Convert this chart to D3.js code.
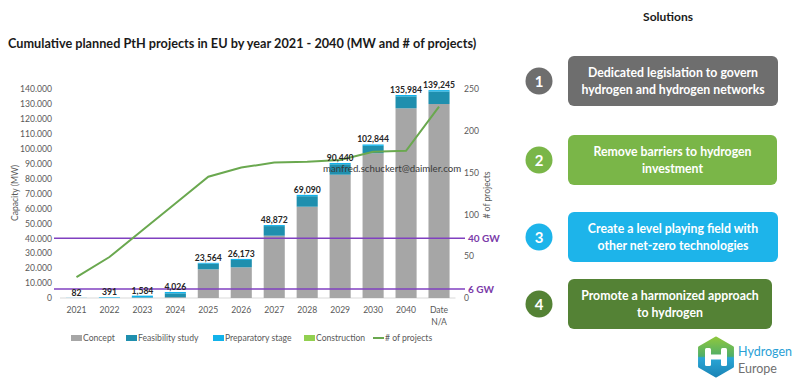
<!DOCTYPE html>
<html>
<head>
<meta charset="utf-8">
<script src="https://cdn.jsdelivr.net/npm/d3@7"></script>
<style>
  body { margin: 0; background: #fff; }
  svg { font-family: Lato, "Open Sans", sans-serif; }
</style>
</head>
<body>
<div id="chart"></div>
<script>
// data
const categories = ["2021","2022","2023","2024","2025","2026","2027","2028","2029","2030","2040","Date N/A"];
const concept     = [0, 0, 200, 500, 19200, 20560, 41730, 61150, 82590, 97000, 127060, 129940];
const feasibility = [0, 0, 300, 2626, 3764, 4913, 6442, 7040, 7000, 4900, 8024, 8405];
const preparatory = [82, 391, 1084, 900, 600, 700, 700, 900, 850, 944, 900, 900];
const construction = [0, 0, 0, 0, 0, 0, 0, 0, 0, 0, 0, 0];
const totals = [82, 391, 1584, 4026, 23564, 26173, 48872, 69090, 90440, 102844, 135984, 139245];
const projects = [25, 49, 81, 113, 145, 156, 162, 163, 165, 175, 176, 229];
const leftTicks = d3.range(0, 140001, 10000);
const rightTicks = [0, 50, 100, 150, 200, 250];
const targets = [{v: 40000, label: "40 GW"}, {v: 6000, label: "6 GW"}];
const seriesNames = ["Concept", "Feasibility study", "Preparatory stage", "Construction"];
const seriesColors = ["#a6a6a6", "#1f8fae", "#12b2ea", "#92d050"];
const solutions = [
  {n: "1", lines: ["Dedicated legislation to govern", "hydrogen and hydrogen networks"], color: "#6e6e6e"},
  {n: "2", lines: ["Remove barriers to hydrogen", "investment"], color: "#7ab648"},
  {n: "3", lines: ["Create a level playing field with", "other net-zero technologies"], color: "#1db4ea"},
  {n: "4", lines: ["Promote a harmonized approach", "to hydrogen"], color: "#548235"}
];

const svg = d3.select("#chart").append("svg")
  .attr("width", 800)
  .attr("height", 385)

// title
svg.append("text")
  .attr("x", 8).attr("y", 48)
  .attr("font-size", 12.7).attr("font-weight", "bold").attr("fill", "#1a1a1a")
  .text("Cumulative planned PtH projects in EU by year 2021 - 2040 (MW and # of projects)")

const x = d3.scaleBand().domain(categories).range([60, 455.5]).paddingInner(0.36).paddingOuter(0.18)
const y = d3.scaleLinear().domain([0, 140000]).range([298, 89])
const y2 = d3.scaleLinear().domain([0, 250]).range([298, 89])

const dotFmt = d3.formatLocale({decimal: ",", thousands: ".", grouping: [3], currency: ["", ""]}).format(",")
const commaFmt = d3.format(",")

// left axis
const ya = svg.append("g").attr("transform", "translate(53,0)")
  .call(d3.axisLeft(y).tickValues(leftTicks).tickFormat(dotFmt).tickSize(0).tickPadding(1))
ya.select(".domain").remove()
ya.selectAll("text").attr("font-size", 8.6).attr("fill", "#595959").attr("font-family", "Lato, sans-serif")

// right axis
const y2a = svg.append("g").attr("transform", "translate(463,0)")
  .call(d3.axisRight(y2).tickValues(rightTicks).tickSize(0).tickPadding(1))
y2a.select(".domain").remove()
y2a.selectAll("text").attr("font-size", 8.6).attr("fill", "#595959").attr("font-family", "Lato, sans-serif")

svg.append("text")
  .attr("transform", "translate(18,193) rotate(-90)")
  .attr("text-anchor", "middle").attr("font-size", 8.6).attr("fill", "#595959")
  .text("Capacity (MW)")
svg.append("text")
  .attr("transform", "translate(490,195) rotate(-90)")
  .attr("text-anchor", "middle").attr("font-size", 8.6).attr("fill", "#595959")
  .text("# of projects")

// baseline
svg.append("line")
  .attr("x1", 60).attr("x2", 455.5).attr("y1", y(0)).attr("y2", y(0))
  .attr("stroke", "#d9d9d9")

// stacked bars
const rows = categories.map((c, i) => ({
  cat: c, Concept: concept[i], "Feasibility study": feasibility[i],
  "Preparatory stage": preparatory[i], Construction: construction[i]
}))
const stack = d3.stack().keys(seriesNames)(rows)
svg.append("g").selectAll("g")
  .data(stack)
  .join("g")
  .attr("fill", (d, i) => seriesColors[i])
  .selectAll("rect")
  .data(d => d)
  .join("rect")
  .attr("x", d => x(d.data.cat))
  .attr("width", x.bandwidth())
  .attr("y", d => y(d[1]))
  .attr("height", d => y(d[0]) - y(d[1]))

// x labels
svg.append("g").selectAll("text")
  .data(categories)
  .join("text")
  .attr("x", d => x(d) + x.bandwidth() / 2)
  .attr("y", 313)
  .attr("text-anchor", "middle").attr("font-size", 8.6).attr("fill", "#595959")
  .each(function(d) {
    const parts = d === "Date N/A" ? ["Date", "N/A"] : [d]
    d3.select(this).selectAll("tspan").data(parts).join("tspan")
      .attr("x", x(d) + x.bandwidth() / 2)
      .attr("dy", (p, i) => i ? 12 : 0)
      .text(p => p)
  })

// target lines
targets.forEach(t => {
  svg.append("line")
    .attr("x1", 54).attr("x2", 465)
    .attr("y1", y(t.v)).attr("y2", y(t.v))
    .attr("stroke", "#8040c0").attr("stroke-width", 1.6)
  svg.append("text")
    .attr("x", 468).attr("y", y(t.v) + 3.5)
    .attr("font-size", 10).attr("font-weight", "bold").attr("fill", "#7a3aa8")
    .text(t.label)
})

// projects line
svg.append("path")
  .datum(projects)
  .attr("fill", "none").attr("stroke", "#6aa84f").attr("stroke-width", 2)
  .attr("d", d3.line()
    .x((d, i) => x(categories[i]) + x.bandwidth() / 2)
    .y(d => y2(d)))

// data labels
svg.append("g").selectAll("text")
  .data(totals)
  .join("text")
  .attr("x", (d, i) => x(categories[i]) + x.bandwidth() / 2)
  .attr("y", d => y(d) - 2)
  .attr("text-anchor", "middle").attr("font-size", 8.6).attr("font-weight", "bold").attr("fill", "#262626")
  .text(d => commaFmt(d))

// watermark (nudged below the 90,440 label so they do not collide)
svg.append("text")
  .attr("x", 323).attr("y", 172)
  .attr("font-size", 9.7).attr("fill", "#3a3a3a")
  .text("manfred.schuckert@daimler.com")

// legend
const legendItems = seriesNames.map((n, i) => ({name: n, color: seriesColors[i], line: false}))
  .concat([{name: "# of projects", color: "#6aa84f", line: true}])
const legendX = [71, 126, 213, 304, 373]
const lg = svg.append("g").selectAll("g")
  .data(legendItems)
  .join("g")
  .attr("transform", (d, i) => `translate(${legendX[i]},338)`)
lg.filter(d => !d.line).append("rect")
  .attr("x", 0).attr("y", -3).attr("width", 11).attr("height", 6).attr("fill", d => d.color)
lg.filter(d => d.line).append("line")
  .attr("x1", 0).attr("x2", 11).attr("y1", 0).attr("y2", 0).attr("stroke", d => d.color).attr("stroke-width", 2)
lg.append("text")
  .attr("x", 12).attr("y", 3)
  .attr("font-size", 8.6).attr("fill", "#595959")
  .text(d => d.name)

// solutions panel
svg.append("text")
  .attr("x", 668).attr("y", 21)
  .attr("text-anchor", "middle").attr("font-size", 12).attr("font-weight", "bold").attr("fill", "#1a1a1a")
  .text("Solutions")

const boxTop = [56, 135, 212, 279]
const boxRight = [778, 777, 778, 772]
const sol = svg.append("g").selectAll("g")
  .data(solutions)
  .join("g")
  .attr("transform", (d, i) => `translate(0,${boxTop[i]})`)
sol.append("circle")
  .attr("cx", 539).attr("cy", 25).attr("r", 13.5)
  .attr("fill", d => d.color)
sol.append("text")
  .attr("x", 539).attr("y", 30.5)
  .attr("text-anchor", "middle").attr("font-size", 15).attr("font-weight", "bold").attr("fill", "#fff")
  .text(d => d.n)
sol.append("rect")
  .attr("x", 568).attr("y", 0)
  .attr("width", (d, i) => boxRight[i] - 568).attr("height", 50)
  .attr("rx", 6).attr("fill", d => d.color)
sol.append("text")
  .attr("text-anchor", "middle").attr("font-size", 12.3).attr("font-weight", "bold").attr("fill", "#fff")
  .each(function(d, i) {
    const cx = (568 + boxRight[i]) / 2
    d3.select(this).selectAll("tspan").data(d.lines).join("tspan")
      .attr("x", cx)
      .attr("y", (l, j) => 21 + j * 17)
      .text(l => l)
  })

// Hydrogen Europe logo
const logo = svg.append("g").attr("transform", "translate(716,357)")
const grad = svg.append("defs").append("linearGradient")
  .attr("id", "hexg").attr("x1", 0).attr("y1", 0).attr("x2", 0).attr("y2", 1)
grad.append("stop").attr("offset", "0%").attr("stop-color", "#8cc63f")
grad.append("stop").attr("offset", "48%").attr("stop-color", "#4fae6a")
grad.append("stop").attr("offset", "52%").attr("stop-color", "#2aa6d6")
grad.append("stop").attr("offset", "100%").attr("stop-color", "#1b86b8")
const hex = d3.range(6).map(k => {
  const a = Math.PI / 3 * k - Math.PI / 2
  return [19 * Math.cos(a), 19 * Math.sin(a)]
})
logo.append("path")
  .attr("d", d3.line().curve(d3.curveLinearClosed)(hex))
  .attr("fill", "url(#hexg)").attr("stroke", "url(#hexg)").attr("stroke-width", 3).attr("stroke-linejoin", "round")
logo.append("rect").attr("x", -11).attr("y", -9).attr("width", 6).attr("height", 18).attr("rx", 1.5).attr("fill", "#fff")
logo.append("rect").attr("x", 5).attr("y", -9).attr("width", 6).attr("height", 18).attr("rx", 1.5).attr("fill", "#fff")
logo.append("rect").attr("x", -6).attr("y", -2.5).attr("width", 12).attr("height", 5).attr("fill", "#fff")
svg.append("text")
  .attr("x", 738).attr("y", 356)
  .attr("font-size", 12.5).attr("fill", "#2a9fd6")
  .text("Hydrogen")
svg.append("text")
  .attr("x", 738).attr("y", 373)
  .attr("font-size", 12.5).attr("fill", "#707070")
  .text("Europe")
</script>
</body>
</html>
